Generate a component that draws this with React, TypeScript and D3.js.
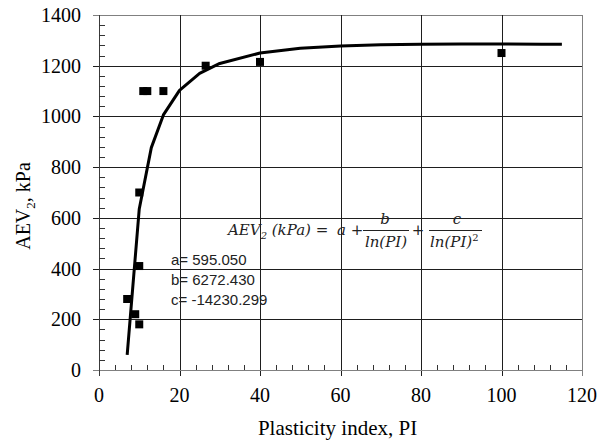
import React from "react";
import * as d3 from "d3";

// Measured data
const pi = [7, 9, 10, 10, 10, 11, 12, 16, 26.5, 40, 100];
const aev = [280, 220, 180, 410, 700, 1100, 1100, 1100, 1200, 1215, 1250];

// Fitted curve points
const curvePI = [7, 10, 13, 16, 20, 25, 30, 40, 50, 60, 70, 80, 90, 100, 110, 115];
const curveAEV = [60, 635, 877, 1006, 1103, 1170, 1209, 1250, 1269, 1278, 1283, 1285, 1286, 1286, 1285, 1285];

const xTicks = [0, 20, 40, 60, 80, 100, 120];
const yTicks = [0, 200, 400, 600, 800, 1000, 1200, 1400];

const params = ["a= 595.050", "b= 6272.430", "c= -14230.299"];

export default function App() {
  const L = 99, R = 582, T = 15, B = 370;
  const x = d3.scaleLinear().domain([0, 120]).range([L, R]);
  const y = d3.scaleLinear().domain([0, 1400]).range([B, T]);
  const px = (v: number) => Math.round(x(v)) + 0.5;
  const py = (v: number) => Math.round(y(v)) + 0.5;

  const xMinor = d3.range(0, 121, 4).filter((v) => v % 20 !== 0);
  const yMinor = d3.range(0, 1401, 40).filter((v) => v % 200 !== 0);

  const line = d3
    .line<number>()
    .x((_, i) => x(curvePI[i]))
    .y((d) => y(d))
    .curve(d3.curveLinear);

  const serif = "'Liberation Serif', 'Times New Roman', serif";
  const mathFont = "'DejaVu Serif', 'Liberation Serif', serif";
  const gridColor = "#1e1e1e";
  const axisColor = "#808080";

  return (
    <svg width={608} height={441} style={{ display: "block", position: "absolute", left: 0, top: 0 }}>
      <rect x={0} y={0} width={608} height={441} fill="#fff" />
      {/* gridlines */}
      {yTicks.filter((v) => v > 0).map((v) => (
        <line key={"gy" + v} x1={L - 6} x2={R} y1={py(v)} y2={py(v)} stroke={v === 1400 ? axisColor : gridColor} strokeWidth={1} />
      ))}
      {xTicks.filter((v) => v > 0).map((v) => (
        <line key={"gx" + v} x1={px(v)} x2={px(v)} y1={T} y2={B + 6} stroke={v === 120 ? axisColor : gridColor} strokeWidth={1} />
      ))}
      {/* axes */}
      <line x1={L - 6} x2={R} y1={py(0)} y2={py(0)} stroke={axisColor} strokeWidth={1} />
      <line x1={px(0)} x2={px(0)} y1={T} y2={B + 6} stroke="#3a3a3a" strokeWidth={1} />
      {/* minor ticks */}
      {xMinor.map((v) => (
        <line key={"mx" + v} x1={px(v)} x2={px(v)} y1={B - 5} y2={B} stroke="#333" strokeWidth={1} />
      ))}
      {yMinor.map((v) => (
        <line key={"my" + v} x1={L} x2={L + 6} y1={py(v)} y2={py(v)} stroke="#333" strokeWidth={1} />
      ))}
      {/* tick labels */}
      {yTicks.map((v) => (
        <text key={"ty" + v} x={81} y={y(v) + 7} textAnchor="end" fontFamily={serif} fontSize={20} fill="#000">
          {v}
        </text>
      ))}
      {xTicks.map((v) => (
        <text key={"tx" + v} x={x(v)} y={401.5} textAnchor="middle" fontFamily={serif} fontSize={20} fill="#000">
          {v}
        </text>
      ))}
      {/* axis titles */}
      <text x={337.5} y={435} textAnchor="middle" fontFamily={serif} fontSize={21} fill="#000">
        Plasticity index, PI
      </text>
      <text transform="translate(30,206) rotate(-90)" textAnchor="middle" fontFamily={serif} fontSize={20} fill="#000">
        AEV<tspan fontSize={13} dy={5}>2</tspan>
        <tspan dy={-5}>, kPa</tspan>
      </text>
      {/* curve */}
      <path d={line(curveAEV) || ""} fill="none" stroke="#000" strokeWidth={3} strokeLinejoin="round" />
      {/* points */}
      {pi.map((p, i) => (
        <rect key={"p" + i} x={x(p) - 4} y={y(aev[i]) - 4} width={8} height={8} fill="#000" />
      ))}
      {/* parameters */}
      {params.map((s, i) => (
        <text key={"pa" + i} x={171} y={265 + i * 20} fontFamily="'Liberation Sans', Arial, sans-serif" fontSize={15} fill="#222">
          {s}
        </text>
      ))}
      {/* equation */}
      <g fontFamily={mathFont} fontStyle="italic" fontSize={15} fill="#222">
        <text x={228} y={235}>
          AEV<tspan fontSize={10} dy={4}>2</tspan>
          <tspan dy={-4}> (kPa) = </tspan>
          <tspan dx={4}>a</tspan>
          <tspan fontStyle="normal"> +</tspan>
        </text>
        <text x={385} y={224} textAnchor="middle">b</text>
        <line x1={363} x2={409} y1={230.5} y2={230.5} stroke="#222" strokeWidth={1} />
        <text x={386} y={247} textAnchor="middle">ln(PI)</text>
        <text x={418} y={235} fontStyle="normal" textAnchor="middle">+</text>
        <text x={457} y={224} textAnchor="middle">c</text>
        <line x1={429} x2={482} y1={230.5} y2={230.5} stroke="#222" strokeWidth={1} />
        <text x={430} y={247}>
          ln(PI)<tspan fontStyle="normal" fontSize={10} dy={-6}>2</tspan>
        </text>
      </g>
    </svg>
  );
}
